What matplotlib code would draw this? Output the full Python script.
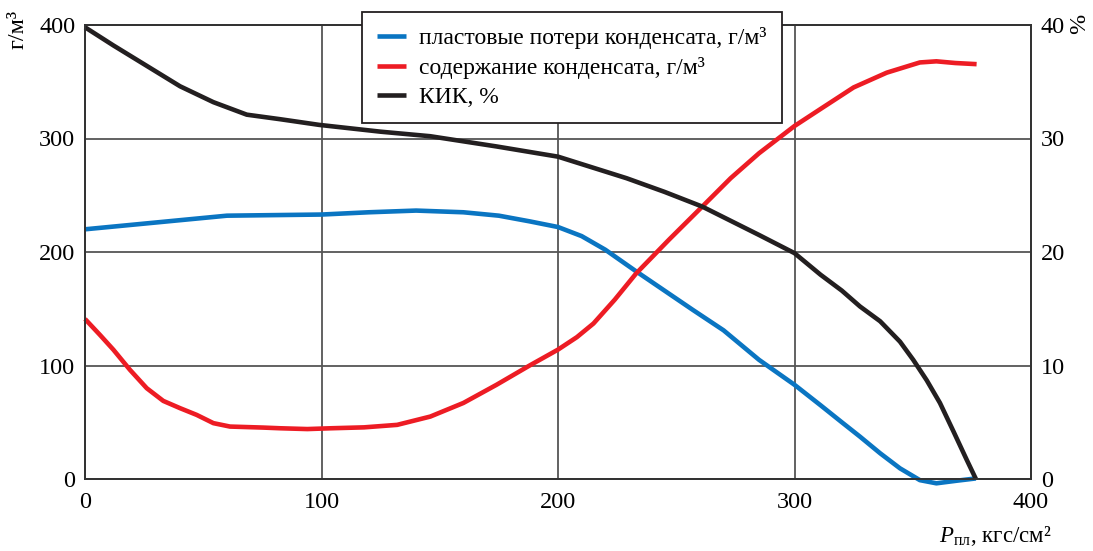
import matplotlib
matplotlib.use('Agg')
import matplotlib.pyplot as plt

plt.rcParams['font.family'] = ['Liberation Serif', 'DejaVu Serif']
plt.rcParams['mathtext.fontset'] = 'custom'
plt.rcParams['mathtext.rm'] = 'Liberation Serif'
plt.rcParams['mathtext.it'] = 'Liberation Serif:italic'

# пластовые потери конденсата, г/м3
p_loss = [0, 20, 40, 50, 60, 80, 100, 120, 140, 160, 175, 188, 200, 210,
          220, 233, 245, 257, 270, 285, 300, 311, 320, 327.7, 336.2, 344.6,
          353, 360, 368.6, 376.7]
loss = [220, 224, 228, 230, 232, 232.5, 233, 235, 236.5, 235, 232, 227,
        222, 214, 202, 183, 166, 149, 131, 105, 83, 65, 50, 37.3, 22.7, 9.4,
        -1, -3.8, -1.5, 0.5]

# содержание конденсата, г/м3
p_cont = [0, 6.3, 12, 19, 26.1, 33.1, 40.2, 47.2, 54.3, 61.3, 75.4, 82.5,
          94, 104, 118, 132, 146, 160, 174, 188, 200, 208, 215, 224, 233,
          247, 261, 273, 285, 300, 311, 325, 339, 353, 360, 368, 377]
cont = [141, 127, 113.9, 96.2, 80, 68.8, 62.4, 56.5, 49.2, 46.2, 45.3, 44.7,
        44, 44.7, 45.5, 47.7, 55, 67, 83, 100, 114, 125, 137, 158, 181, 211,
        240, 265, 287, 311, 326, 345, 358, 367, 368, 366.5, 365.5]

# КИК, %
p_kik = [0, 12, 26.1, 40.2, 54.3, 68.4, 82.5, 99, 125, 146, 174, 200, 229,
         245, 261, 285, 300, 311, 320, 327.7, 336.2, 344.6, 350.2, 355.9,
         361.5, 367.2, 372.8, 376.7]
kik = [39.8, 38.2, 36.4, 34.6, 33.2, 32.1, 31.7, 31.2, 30.6, 30.2, 29.3,
       28.4, 26.5, 25.3, 24.0, 21.5, 19.9, 18.0, 16.6, 15.2, 13.9, 12.1,
       10.5, 8.7, 6.7, 4.2, 1.7, 0]

labels = ['пластовые потери конденсата, г/м³',
          'содержание конденсата, г/м³',
          'КИК, %']
colors = ['#0a75c2', '#ed1c24', '#231f20']

fig = plt.figure(figsize=(10.93, 5.51), dpi=100)
ax = fig.add_axes([85 / 1093, 1 - 479 / 551, 946 / 1093, 454 / 551])
ax2 = ax.twinx()

lw = 3.3
l1, = ax.plot(p_loss, loss, color=colors[0], lw=lw, clip_on=False,
              solid_capstyle='butt', solid_joinstyle='round')
l2, = ax.plot(p_cont, cont, color=colors[1], lw=lw, clip_on=False,
              solid_capstyle='butt', solid_joinstyle='round')
l3, = ax2.plot(p_kik, kik, color=colors[2], lw=lw, clip_on=False,
               solid_capstyle='butt', solid_joinstyle='round')

ax.set_xlim(0, 400)
ax.set_ylim(0, 400)
ax2.set_ylim(0, 40)
ax.set_xticks([0, 100, 200, 300, 400])
ax.set_yticks([0, 100, 200, 300, 400])
ax2.set_yticks([0, 10, 20, 30, 40])

ax.grid(True, color='#555555', lw=1.3)
for a in (ax, ax2):
    a.tick_params(length=0, labelsize=17.5, pad=7)
    for s in a.spines.values():
        s.set_color('#333333')
        s.set_linewidth(1.3)
ax.tick_params(axis='x', pad=9)

fig.text(18 / 1093, 1 - 29 / 551, 'г/м³', rotation=90, ha='center',
         va='center', fontsize=17.5)
fig.text(1080 / 1093, 1 - 24 / 551, '%', rotation=90, ha='center',
         va='center', fontsize=17.5)
fig.text(939 / 1093, 1 - 542 / 551, r'$P_{\rm пл}$, кгс/см²', ha='left',
         va='baseline', fontsize=16.5)

leg = fig.legend([l1, l2, l3], labels, loc='upper left',
                 bbox_to_anchor=(362 / 1093, 1 - 12 / 551),
                 fontsize=17, frameon=True, fancybox=False,
                 handlelength=1.2, handletextpad=0.55, labelspacing=0.32,
                 borderpad=0.65, borderaxespad=0)
leg.get_frame().set_edgecolor('#231f20')
leg.get_frame().set_linewidth(1.3)
leg.get_frame().set_alpha(1)

fig.savefig('out.png', dpi=100, facecolor='white')
